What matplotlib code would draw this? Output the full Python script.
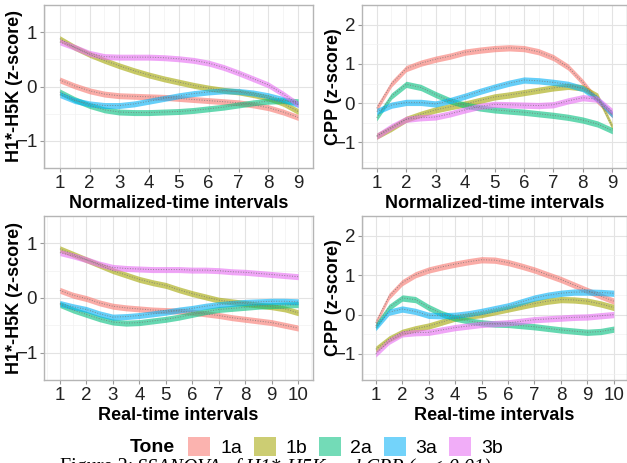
import numpy as np
import matplotlib
matplotlib.use("Agg")
import matplotlib.pyplot as plt
from matplotlib.patches import Patch
from matplotlib.offsetbox import HPacker

plt.rcParams['font.family'] = ['Liberation Sans', 'DejaVu Sans']

tones = ['1a', '1b', '2a', '3a', '3b']
tone_colors = ['#F8766D', '#A3A500', '#00BF7D', '#00B0F6', '#E76BF3']

# x positions (half steps)
x_norm = [1, 1.5, 2, 2.5, 3, 3.5, 4, 4.5, 5, 5.5, 6, 6.5, 7, 7.5, 8, 8.5, 9]
x_real = [1, 1.5, 2, 2.5, 3, 3.5, 4, 4.5, 5, 5.5, 6, 6.5, 7, 7.5, 8, 8.5, 9, 9.5, 10]

# H1*-H5K, normalized time
h1_norm_1a = [0.12, 0.01, -0.08, -0.14, -0.17, -0.18, -0.19, -0.20, -0.22, -0.24, -0.26, -0.28, -0.30, -0.34, -0.39, -0.47, -0.57]
h1_norm_1b = [0.88, 0.72, 0.59, 0.48, 0.38, 0.29, 0.21, 0.14, 0.08, 0.02, -0.03, -0.07, -0.10, -0.15, -0.21, -0.31, -0.46]
h1_norm_2a = [-0.10, -0.24, -0.35, -0.43, -0.47, -0.48, -0.48, -0.47, -0.46, -0.44, -0.41, -0.38, -0.34, -0.30, -0.27, -0.26, -0.28]
h1_norm_3a = [-0.15, -0.26, -0.32, -0.35, -0.35, -0.32, -0.27, -0.22, -0.17, -0.13, -0.10, -0.08, -0.09, -0.12, -0.17, -0.24, -0.33]
h1_norm_3b = [0.82, 0.72, 0.61, 0.55, 0.54, 0.54, 0.54, 0.53, 0.51, 0.48, 0.43, 0.35, 0.25, 0.14, 0.03, -0.14, -0.33]

# CPP, normalized time
cpp_norm_1a = [-0.13, 0.49, 0.88, 1.02, 1.12, 1.20, 1.30, 1.35, 1.39, 1.41, 1.39, 1.31, 1.16, 0.92, 0.53, 0.06, -0.29]
cpp_norm_1b = [-0.84, -0.64, -0.41, -0.28, -0.17, -0.09, -0.02, 0.07, 0.16, 0.21, 0.27, 0.33, 0.39, 0.43, 0.39, 0.18, -0.60]
cpp_norm_2a = [-0.37, 0.18, 0.48, 0.40, 0.22, 0.06, -0.05, -0.12, -0.17, -0.20, -0.23, -0.27, -0.31, -0.36, -0.43, -0.53, -0.70]
cpp_norm_3a = [-0.21, -0.05, 0.02, 0.02, -0.02, 0.07, 0.18, 0.30, 0.41, 0.51, 0.59, 0.57, 0.53, 0.48, 0.37, 0.10, -0.29]
cpp_norm_3b = [-0.84, -0.60, -0.41, -0.37, -0.35, -0.27, -0.17, -0.08, -0.03, -0.04, -0.05, -0.06, -0.04, 0.06, 0.14, 0.10, -0.21]

# H1*-H5K, real time
h1_real_1a = [0.14, 0.05, -0.01, -0.09, -0.15, -0.18, -0.20, -0.22, -0.23, -0.24, -0.26, -0.29, -0.32, -0.36, -0.39, -0.42, -0.45, -0.50, -0.55]
h1_real_1b = [0.90, 0.80, 0.70, 0.60, 0.50, 0.42, 0.34, 0.28, 0.23, 0.15, 0.08, 0.02, -0.04, -0.07, -0.10, -0.13, -0.16, -0.20, -0.27]
h1_real_2a = [-0.12, -0.22, -0.30, -0.38, -0.44, -0.46, -0.45, -0.42, -0.39, -0.35, -0.30, -0.25, -0.21, -0.19, -0.17, -0.15, -0.14, -0.13, -0.12]
h1_real_3a = [-0.10, -0.16, -0.21, -0.29, -0.35, -0.34, -0.32, -0.29, -0.26, -0.22, -0.19, -0.15, -0.12, -0.10, -0.08, -0.07, -0.06, -0.06, -0.07]
h1_real_3b = [0.83, 0.77, 0.70, 0.62, 0.56, 0.54, 0.53, 0.52, 0.52, 0.52, 0.51, 0.51, 0.50, 0.48, 0.47, 0.45, 0.43, 0.41, 0.39]

# CPP, real time
cpp_real_1a = [-0.21, 0.46, 0.81, 1.01, 1.13, 1.21, 1.28, 1.34, 1.39, 1.38, 1.32, 1.23, 1.13, 1.01, 0.89, 0.75, 0.61, 0.47, 0.34]
cpp_real_1b = [-0.88, -0.62, -0.45, -0.36, -0.29, -0.19, -0.09, -0.04, 0.00, 0.07, 0.14, 0.21, 0.28, 0.34, 0.38, 0.37, 0.34, 0.27, 0.18]
cpp_real_2a = [-0.29, 0.18, 0.42, 0.38, 0.18, 0.02, -0.09, -0.16, -0.21, -0.24, -0.25, -0.28, -0.31, -0.35, -0.39, -0.42, -0.45, -0.43, -0.37]
cpp_real_3a = [-0.33, 0.06, 0.14, 0.08, -0.02, -0.03, -0.02, 0.02, 0.08, 0.15, 0.22, 0.32, 0.42, 0.49, 0.54, 0.57, 0.57, 0.56, 0.54]
cpp_real_3b = [-1.00, -0.68, -0.49, -0.46, -0.45, -0.39, -0.33, -0.29, -0.25, -0.23, -0.21, -0.17, -0.13, -0.11, -0.09, -0.07, -0.06, -0.03, 0.00]

W, H = 627, 463
fig = plt.figure(figsize=(W / 100, H / 100), dpi=100)


def panel(rect, x, series, band, xticks, yticks, xlim, ylim, xlabel, ylabel, ylab_x):
    ax = fig.add_axes(rect)
    for ys, c in zip(series, tone_colors):
        ys = np.array(ys)
        ax.fill_between(x, ys - band, ys + band, color=c, alpha=0.6, lw=0)
        ax.plot(x, ys, ls=':', color='#777777', lw=0.7, alpha=0.8)  # fitted curve
    ax.set_xlim(*xlim)
    ax.set_ylim(*ylim)
    ax.set_xticks(xticks)
    ax.set_yticks(yticks)
    ax.set_xticks(np.arange(xticks[0] - 0.5, xticks[-1] + 1, 1.0), minor=True)
    ax.set_yticks(np.arange(yticks[0] - 0.5, yticks[-1] + 1, 1.0), minor=True)
    ax.grid(which='major', color='#E3E3E3', lw=0.8)
    ax.grid(which='minor', color='#F1F1F1', lw=0.5)
    ax.set_axisbelow(True)
    ax.tick_params(which='major', length=3, color='#999999', labelsize=13.5, labelcolor='#222222', pad=2)
    ax.tick_params(which='minor', length=0)
    for s in ax.spines.values():
        s.set_color('#B5B5B5')
        s.set_linewidth(1.0)
    ax.set_xlabel(xlabel, fontsize=13, fontweight='bold', labelpad=2)
    ax.set_ylabel(ylabel, fontsize=13, fontweight='bold', va='center')
    ax.yaxis.set_label_coords(ylab_x, 0.5)
    return ax


top_b = 1 - 168 / H
bot_b = 1 - 380 / H
ph = 163 / H

panel([44 / W, top_b, 269 / W, ph], x_norm,
      [h1_norm_1a, h1_norm_1b, h1_norm_2a, h1_norm_3a, h1_norm_3b], 0.055,
      list(range(1, 10)), [-1, 0, 1], (0.47, 9.5), (-1.08, 1.09),
      'Normalized-time intervals', 'H1*-H5K (z-score)', -0.108)
panel([362 / W, top_b, 265 / W, ph], x_norm,
      [cpp_norm_1a, cpp_norm_1b, cpp_norm_2a, cpp_norm_3a, cpp_norm_3b], 0.08,
      list(range(1, 10)), [-1, 0, 1, 2], (0.53, 9.37), (-1.65, 2.16),
      'Normalized-time intervals', 'CPP (z-score)', -0.109)
panel([44 / W, bot_b, 269 / W, 164 / H], x_real,
      [h1_real_1a, h1_real_1b, h1_real_2a, h1_real_3a, h1_real_3b], 0.055,
      list(range(1, 11)), [-1, 0, 1], (0.4, 10.56), (-1.08, 1.09),
      'Real-time intervals', 'H1*-H5K (z-score)', -0.108)
panel([362 / W, bot_b, 265 / W, 164 / H], x_real,
      [cpp_real_1a, cpp_real_1b, cpp_real_2a, cpp_real_3a, cpp_real_3b], 0.08,
      list(range(1, 11)), [-1, 0, 1, 2], (0.48, 10.4), (-1.66, 2.2),
      'Real-time intervals', 'CPP (z-score)', -0.109)

# legend along the bottom, title inline with the keys
handles = [Patch(facecolor=c, alpha=0.55, edgecolor='none') for c in tone_colors]
leg = fig.legend(handles, tones, loc='center', bbox_to_anchor=(316 / W, 1 - 447 / H),
                 ncol=5, frameon=False, fontsize=14, title='Tone',
                 handlelength=1.13, handleheight=1.13, columnspacing=0.6,
                 handletextpad=0.5, borderpad=0, borderaxespad=0)
leg.get_title().set_fontweight('bold')
leg.get_title().set_fontsize(14)
box = leg._legend_box
box._children = [HPacker(children=box.get_children(), align='center', pad=0, sep=10)]

# caption, mostly cut off at the bottom edge
fig.text(60 / W, 1 - 458 / H, 'Figure 2:', fontsize=14.5, family='Liberation Serif', va='top')
fig.text(137 / W, 1 - 458 / H, 'SSANOVA of H1*-H5K and CPP (p < 0.01)', fontsize=14.5,
         family='Liberation Serif', style='italic', va='top')

fig.savefig('out.png', dpi=100)
